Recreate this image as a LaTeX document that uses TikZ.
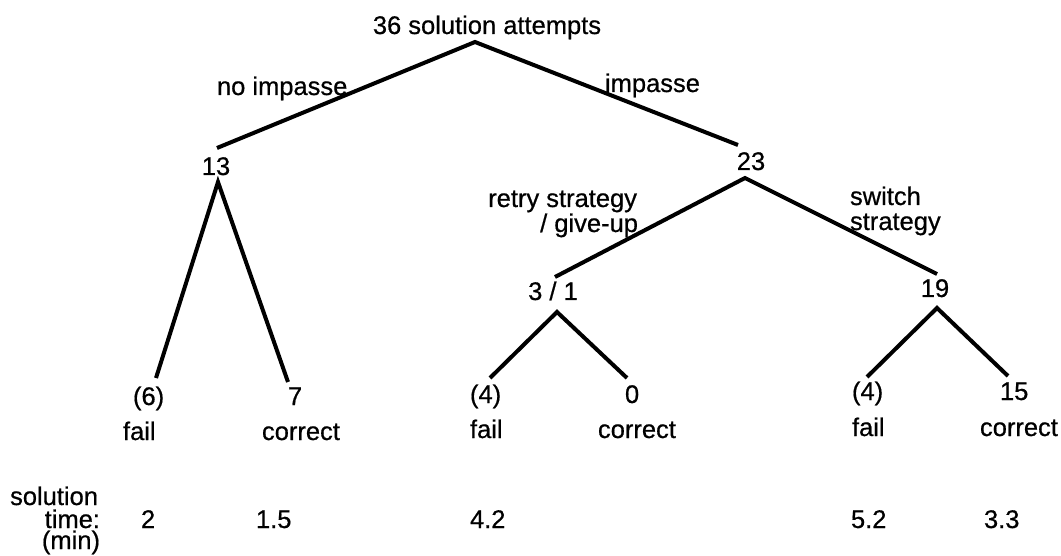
\documentclass[tikz,border=0pt]{standalone}
\usepackage{fontspec}
\setmainfont[FakeBold=0.6]{Liberation Sans}
\begin{document}
\begin{tikzpicture}[x=1pt,y=-1pt,
  every node/.style={inner sep=0pt, outer sep=0pt, font=\fontsize{25.5}{25.5}\selectfont},
  branch/.style={line width=4pt, line join=miter, line cap=butt},
  lb/.style={anchor=base},
  lw/.style={anchor=base west},
  le/.style={anchor=base east}]
\useasboundingbox (0,0) rectangle (1061,556);

% top level
\node[lb] (root) at (487,34) {36 solution attempts};
\coordinate (rootapex) at (475,42);
\node[lw] (noimp) at (217,95) {no impasse};
\node[lw] (imp) at (605,92) {impasse};

\node[lb] (n13) at (216,175) {13};
\coordinate (n13top) at (217,148);
\coordinate (n13bot) at (218,182);
\node[lb] (n23) at (751,170) {23};
\coordinate (n23top) at (738,145);
\coordinate (n23bot) at (745,178);
\draw[branch] (n13top) -- (rootapex) -- (n23top);

% second level under 23
\node[le] (retry) at (637,207) {retry strategy};
\node[le] (giveup) at (638,232) {/ give-up};
\node[lw] (switch) at (850,205) {switch};
\node[lw] (strat) at (850,230) {strategy};

\node[lb] (n31) at (553,300) {3 / 1};
\coordinate (n31top) at (555,277);
\coordinate (n31bot) at (557,312);
\node[lb] (n19) at (935,297) {19};
\coordinate (n19top) at (937,274);
\coordinate (n19bot) at (937,308);
\draw[branch] (n31top) -- (n23bot) -- (n19top);

% leaves under 13
\coordinate (l6) at (156,378);
\coordinate (l7) at (288,382);
\draw[branch] (l6) -- (n13bot) -- (l7);
\node[lw] (c6) at (133,405) {(6)};
\node[lw] (f6) at (123,440) {fail};
\node[lw] (c7) at (288,405) {7};
\node[lw] (k7) at (262,440) {correct};

% leaves under 3/1
\coordinate (l4a) at (490,378);
\coordinate (l0) at (627,378);
\draw[branch] (l4a) -- (n31bot) -- (l0);
\node[lw] (c4a) at (470,403) {(4)};
\node[lw] (f4a) at (470,438) {fail};
\node[lw] (c0) at (625,403) {0};
\node[lw] (k0) at (598,438) {correct};

% leaves under 19
\coordinate (l4b) at (867,377);
\coordinate (l15) at (1008,376);
\draw[branch] (l4b) -- (n19bot) -- (l15);
\node[lw] (c4b) at (852,400) {(4)};
\node[lw] (f4b) at (852,436) {fail};
\node[lw] (c15) at (1000,400) {15};
\node[lw] (k15) at (980,436) {correct};

% solution times
\node[le] (st1) at (98,505) {solution};
\node[le] (st2) at (100,528) {time:};
\node[le] (st3) at (100,549) {(min)};
\node[lw] (t1) at (141,528) {2};
\node[lw] (t2) at (256,528) {1.5};
\node[lw] (t3) at (470,528) {4.2};
\node[lw] (t4) at (851,528) {5.2};
\node[lw] (t5) at (984,528) {3.3};
\end{tikzpicture}
\end{document}
